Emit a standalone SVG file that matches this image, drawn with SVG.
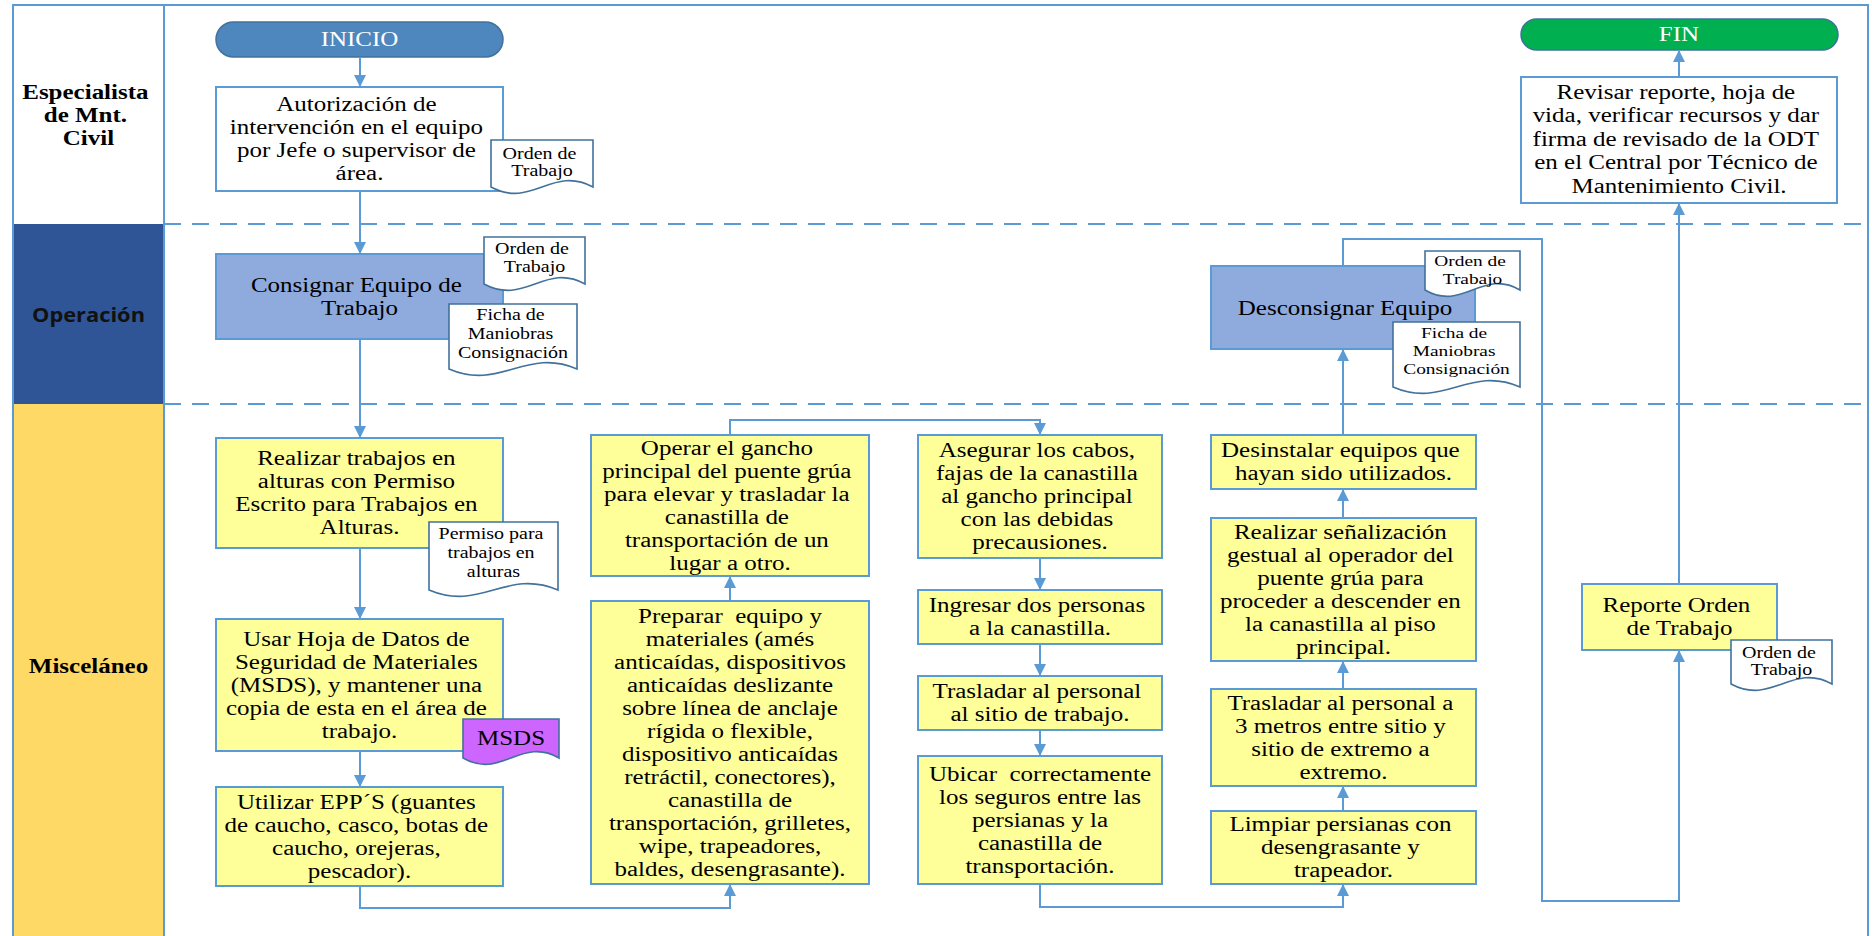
<svg xmlns="http://www.w3.org/2000/svg" width="1872" height="936" viewBox="0 0 1872 936">
  <style>
    .t { font-family: "Liberation Serif", "Times New Roman", serif; font-size: 20px; fill: #000; text-anchor: middle; }
    .tb { font-family: "Liberation Serif", "Times New Roman", serif; font-size: 20px; font-weight: bold; fill: #000; text-anchor: middle; }
    .ts { font-family: "Open Sans", "Liberation Sans", sans-serif; font-size: 19px; font-weight: bold; fill: #111; text-anchor: middle; }
    .td { font-family: "Liberation Serif", "Times New Roman", serif; font-size: 16px; fill: #000; text-anchor: middle; }
    .tw { font-family: "Liberation Serif", "Times New Roman", serif; font-size: 20px; fill: #fff; text-anchor: middle; }
    .box { fill: #ffffff; stroke: #5b9bd5; stroke-width: 2; }
    .yel { fill: #ffff99; stroke: #5b9bd5; stroke-width: 2; }
    .op { fill: #8faadc; stroke: #5b9bd5; stroke-width: 2; }
    .doc { fill: #ffffff; stroke: #41719c; stroke-width: 1.6; }
    .msds { fill: #cc66ff; stroke: #41719c; stroke-width: 1.6; }
    .lane-line { fill: none; stroke: #5b9bd5; stroke-width: 2; }
    .dash { stroke: #5b9bd5; stroke-width: 2; stroke-dasharray: 17 11; }
    .con { fill: none; stroke: #5b9bd5; stroke-width: 2; marker-end: url(#arr); }
    .conn { fill: none; stroke: #5b9bd5; stroke-width: 2; }
  </style>
  <defs>
    <marker id="arr" markerUnits="userSpaceOnUse" markerWidth="13" markerHeight="13" refX="12" refY="6.5" orient="auto">
      <path d="M0,0.5 L12,6.5 L0,12.5 z" fill="#5b9bd5"/>
    </marker>
  </defs>

  <rect width="1872" height="936" fill="#ffffff"/>

  <!-- swimlanes -->
  <g id="lanes">
    <rect x="13" y="6" width="151" height="218" fill="#ffffff"/>
    <rect x="13" y="224" width="151" height="180" fill="#2f5597"/>
    <rect x="13" y="404" width="151" height="540" fill="#ffd966"/>
    <rect x="13" y="5" width="1855" height="940" class="lane-line"/>
    <line x1="164" y1="5" x2="164" y2="936" class="lane-line"/>
    <line x1="164" y1="224" x2="1868" y2="224" class="dash"/>
    <line x1="164" y1="404" x2="1868" y2="404" class="dash"/>
    <text class="tb" transform="translate(88.5 0) scale(1.25 1)">
      <tspan x="0" y="99">Especialista</tspan>
      <tspan x="0" y="122">de Mnt.</tspan>
      <tspan x="0" y="145">Civil</tspan>
    </text>
    <text class="ts" transform="translate(88.5 0) scale(1.15 1)"><tspan x="0" y="322">Operación</tspan></text>
    <text class="tb" transform="translate(88.5 0) scale(1.25 1)"><tspan x="0" y="673">Misceláneo</tspan></text>
  </g>

  <!-- start / end -->
  <g id="inicio">
    <rect x="216" y="22" width="287" height="35" rx="17.5" fill="#4d87be" stroke="#41719c" stroke-width="1.5"/>
    <text class="tw" transform="translate(359.5 0) scale(1.25 1)"><tspan x="0" y="46">INICIO</tspan></text>
  </g>
  <g id="fin">
    <rect x="1521" y="19" width="317" height="31" rx="15.5" fill="#00b050" stroke="#41719c" stroke-width="1.5"/>
    <text class="tw" transform="translate(1679 0) scale(1.25 1)"><tspan x="0" y="41">FIN</tspan></text>
  </g>

  <!-- Especialista de Mnt. Civil -->
  <g id="autorizacion">
    <rect x="216" y="87" width="287" height="104" class="box"/>
    <text class="t" transform="translate(359.5 0) scale(1.25 1)">
      <tspan x="0" y="111">Autorización de</tspan>
      <tspan x="0" y="134">intervención en el equipo</tspan>
      <tspan x="0" y="157">por Jefe o supervisor de</tspan>
      <tspan x="0" y="180">área.</tspan>
    </text>
  </g>
  <g id="doc-orden-1">
    <path d="M491,140 H593 V187 C552,165 532,209 491,187 Z" class="doc"/>
    <text class="td" transform="translate(542 0) scale(1.25 1)">
      <tspan x="0" y="159">Orden de</tspan>
      <tspan x="0" y="176">Trabajo</tspan>
    </text>
  </g>
  <g id="revisar">
    <rect x="1521" y="77" width="316" height="126" class="box"/>
    <text class="t" transform="translate(1679 0) scale(1.25 1)">
      <tspan x="0" y="99">Revisar reporte, hoja de</tspan>
      <tspan x="0" y="122.5">vida, verificar recursos y dar</tspan>
      <tspan x="0" y="146">firma de revisado de la ODT</tspan>
      <tspan x="0" y="169.5">en el Central por Técnico de</tspan>
      <tspan x="0" y="193">Mantenimiento Civil.</tspan>
    </text>
  </g>

  <!-- Operación -->
  <g id="consignar">
    <rect x="216" y="254" width="287" height="85" class="op"/>
    <text class="t" transform="translate(359.5 0) scale(1.25 1)">
      <tspan x="0" y="292">Consignar Equipo de</tspan>
      <tspan x="0" y="315">Trabajo</tspan>
    </text>
  </g>
  <g id="doc-orden-2">
    <path d="M484,237 H585 V284 C545,262 525,306 484,284 Z" class="doc"/>
    <text class="td" transform="translate(534.5 0) scale(1.25 1)">
      <tspan x="0" y="254">Orden de</tspan>
      <tspan x="0" y="272">Trabajo</tspan>
    </text>
  </g>
  <g id="doc-ficha-1">
    <path d="M449,304 H577 V369 C526,347 500,391 449,369 Z" class="doc"/>
    <text class="td" transform="translate(513 0) scale(1.25 1)">
      <tspan x="0" y="320">Ficha de</tspan>
      <tspan x="0" y="339">Maniobras</tspan>
      <tspan x="0" y="358">Consignación</tspan>
    </text>
  </g>
  <g id="desconsignar">
    <rect x="1211" y="266" width="264" height="83" class="op"/>
    <text class="t" transform="translate(1345 0) scale(1.25 1)"><tspan x="0" y="315">Desconsignar Equipo</tspan></text>
  </g>
  <g id="doc-orden-3">
    <path d="M1425,251 H1520 V290 C1482,268 1463,312 1425,290 Z" class="doc"/>
    <text class="td" style="font-size:15.5px" transform="translate(1472.5 0) scale(1.25 1)">
      <tspan x="0" y="266">Orden de</tspan>
      <tspan x="0" y="284">Trabajo</tspan>
    </text>
  </g>
  <g id="doc-ficha-2">
    <path d="M1393,322 H1520 V387 C1469,365 1444,409 1393,387 Z" class="doc"/>
    <text class="td" style="font-size:15.5px" transform="translate(1456.5 0) scale(1.25 1)">
      <tspan x="0" y="338">Ficha de</tspan>
      <tspan x="0" y="356">Maniobras</tspan>
      <tspan x="0" y="374">Consignación</tspan>
    </text>
  </g>

  <!-- Misceláneo: left column -->
  <g id="realizar-alturas">
    <rect x="216" y="438" width="287" height="110" class="yel"/>
    <text class="t" transform="translate(359.5 0) scale(1.25 1)">
      <tspan x="0" y="465">Realizar trabajos en</tspan>
      <tspan x="0" y="488">alturas con Permiso</tspan>
      <tspan x="0" y="511">Escrito para Trabajos en</tspan>
      <tspan x="0" y="534">Alturas.</tspan>
    </text>
  </g>
  <g id="doc-permiso">
    <path d="M429,522 H558 V590 C506,568 481,612 429,590 Z" class="doc"/>
    <text class="td" transform="translate(493.5 0) scale(1.25 1)">
      <tspan x="0" y="539">Permiso para</tspan>
      <tspan x="0" y="558">trabajos en</tspan>
      <tspan x="0" y="577">alturas</tspan>
    </text>
  </g>
  <g id="usar-msds">
    <rect x="216" y="619" width="287" height="132" class="yel"/>
    <text class="t" transform="translate(359.5 0) scale(1.25 1)">
      <tspan x="0" y="646">Usar Hoja de Datos de</tspan>
      <tspan x="0" y="669">Seguridad de Materiales</tspan>
      <tspan x="0" y="692">(MSDS), y mantener una</tspan>
      <tspan x="0" y="715">copia de esta en el área de</tspan>
      <tspan x="0" y="738">trabajo.</tspan>
    </text>
  </g>
  <g id="doc-msds">
    <path d="M463,719 H559 V758 C521,736 501,780 463,758 Z" class="msds"/>
    <text class="t" transform="translate(511 0) scale(1.25 1)"><tspan x="0" y="745">MSDS</tspan></text>
  </g>
  <g id="utilizar-epp">
    <rect x="216" y="787" width="287" height="99" class="yel"/>
    <text class="t" transform="translate(359.5 0) scale(1.25 1)">
      <tspan x="0" y="809">Utilizar EPP´S (guantes</tspan>
      <tspan x="0" y="832">de caucho, casco, botas de</tspan>
      <tspan x="0" y="855">caucho, orejeras,</tspan>
      <tspan x="0" y="878">pescador).</tspan>
    </text>
  </g>

  <!-- Misceláneo: second column -->
  <g id="operar-gancho">
    <rect x="591" y="435" width="278" height="141" class="yel"/>
    <text class="t" transform="translate(730 0) scale(1.25 1)">
      <tspan x="0" y="455">Operar el gancho</tspan>
      <tspan x="0" y="478">principal del puente grúa</tspan>
      <tspan x="0" y="501">para elevar y trasladar la</tspan>
      <tspan x="0" y="524">canastilla de</tspan>
      <tspan x="0" y="547">transportación de un</tspan>
      <tspan x="0" y="570">lugar a otro.</tspan>
    </text>
  </g>
  <g id="preparar-equipo">
    <rect x="591" y="601" width="278" height="283" class="yel"/>
    <text class="t" xml:space="preserve" transform="translate(730 0) scale(1.25 1)"><tspan x="0" y="623">Preparar  equipo y</tspan><tspan x="0" y="646">materiales (amés</tspan><tspan x="0" y="669">anticaídas, dispositivos</tspan><tspan x="0" y="692">anticaídas deslizante</tspan><tspan x="0" y="715">sobre línea de anclaje</tspan><tspan x="0" y="738">rígida o flexible,</tspan><tspan x="0" y="761">dispositivo anticaídas</tspan><tspan x="0" y="784">retráctil, conectores),</tspan><tspan x="0" y="807">canastilla de</tspan><tspan x="0" y="830">transportación, grilletes,</tspan><tspan x="0" y="853">wipe, trapeadores,</tspan><tspan x="0" y="876">baldes, desengrasante).</tspan></text>
  </g>

  <!-- Misceláneo: third column -->
  <g id="asegurar-cabos">
    <rect x="918" y="435" width="244" height="123" class="yel"/>
    <text class="t" transform="translate(1040 0) scale(1.25 1)">
      <tspan x="0" y="457.5">Asegurar los cabos,</tspan>
      <tspan x="0" y="480.5">fajas de la canastilla</tspan>
      <tspan x="0" y="503.5">al gancho principal</tspan>
      <tspan x="0" y="526.5">con las debidas</tspan>
      <tspan x="0" y="549.5">precausiones.</tspan>
    </text>
  </g>
  <g id="ingresar-personas">
    <rect x="918" y="590" width="244" height="54" class="yel"/>
    <text class="t" transform="translate(1040 0) scale(1.25 1)">
      <tspan x="0" y="612.5">Ingresar dos personas</tspan>
      <tspan x="0" y="635.5">a la canastilla.</tspan>
    </text>
  </g>
  <g id="trasladar-sitio">
    <rect x="918" y="676" width="244" height="54" class="yel"/>
    <text class="t" transform="translate(1040 0) scale(1.25 1)">
      <tspan x="0" y="698.5">Trasladar al personal</tspan>
      <tspan x="0" y="721.5">al sitio de trabajo.</tspan>
    </text>
  </g>
  <g id="ubicar-seguros">
    <rect x="918" y="756" width="244" height="128" class="yel"/>
    <text class="t" xml:space="preserve" transform="translate(1040 0) scale(1.25 1)"><tspan x="0" y="781">Ubicar  correctamente</tspan><tspan x="0" y="804">los seguros entre las</tspan><tspan x="0" y="827">persianas y la</tspan><tspan x="0" y="850">canastilla de</tspan><tspan x="0" y="873">transportación.</tspan></text>
  </g>

  <!-- Misceláneo: fourth column -->
  <g id="desinstalar">
    <rect x="1211" y="435" width="265" height="54" class="yel"/>
    <text class="t" transform="translate(1343.5 0) scale(1.25 1)">
      <tspan x="0" y="457.5">Desinstalar equipos que</tspan>
      <tspan x="0" y="480.5">hayan sido utilizados.</tspan>
    </text>
  </g>
  <g id="senalizacion">
    <rect x="1211" y="518" width="265" height="143" class="yel"/>
    <text class="t" transform="translate(1343.5 0) scale(1.25 1)">
      <tspan x="0" y="539">Realizar señalización</tspan>
      <tspan x="0" y="562">gestual al operador del</tspan>
      <tspan x="0" y="585">puente grúa para</tspan>
      <tspan x="0" y="608">proceder a descender en</tspan>
      <tspan x="0" y="631">la canastilla al piso</tspan>
      <tspan x="0" y="654">principal.</tspan>
    </text>
  </g>
  <g id="trasladar-extremo">
    <rect x="1211" y="689" width="265" height="97" class="yel"/>
    <text class="t" transform="translate(1343.5 0) scale(1.25 1)">
      <tspan x="0" y="710">Trasladar al personal a</tspan>
      <tspan x="0" y="733">3 metros entre sitio y</tspan>
      <tspan x="0" y="756">sitio de extremo a</tspan>
      <tspan x="0" y="779">extremo.</tspan>
    </text>
  </g>
  <g id="limpiar-persianas">
    <rect x="1211" y="811" width="265" height="73" class="yel"/>
    <text class="t" transform="translate(1343.5 0) scale(1.25 1)">
      <tspan x="0" y="831.5">Limpiar persianas con</tspan>
      <tspan x="0" y="854.5">desengrasante y</tspan>
      <tspan x="0" y="877.5">trapeador.</tspan>
    </text>
  </g>

  <!-- Misceláneo: report -->
  <g id="reporte">
    <rect x="1582" y="584" width="195" height="66" class="yel"/>
    <text class="t" transform="translate(1679.5 0) scale(1.25 1)">
      <tspan x="0" y="612.5">Reporte Orden</tspan>
      <tspan x="0" y="635.5">de Trabajo</tspan>
    </text>
  </g>
  <g id="doc-orden-4">
    <path d="M1731,640 H1832 V684 C1792,662 1772,706 1731,684 Z" class="doc"/>
    <text class="td" transform="translate(1781.5 0) scale(1.25 1)">
      <tspan x="0" y="658">Orden de</tspan>
      <tspan x="0" y="675">Trabajo</tspan>
    </text>
  </g>

  <!-- connectors -->
  <g id="connectors">
    <path d="M360,57 V87" class="con"/>
    <path d="M360,191 V254" class="con"/>
    <path d="M360,339 V438" class="con"/>
    <path d="M360,548 V619" class="con"/>
    <path d="M360,751 V787" class="con"/>
    <path d="M360,886 V908 H730 V884" class="con"/>
    <path d="M730,601 V576" class="con"/>
    <path d="M730,435 V420 H1040 V435" class="con"/>
    <path d="M1040,558 V590" class="con"/>
    <path d="M1040,644 V676" class="con"/>
    <path d="M1040,730 V756" class="con"/>
    <path d="M1040,884 V907 H1343 V884" class="con"/>
    <path d="M1343,811 V786" class="con"/>
    <path d="M1343,689 V661" class="con"/>
    <path d="M1343,518 V489" class="con"/>
    <path d="M1343,435 V349" class="con"/>
    <path d="M1343,266 V239 H1542 V901 H1679 V650" class="con"/>
    <path d="M1679,584 V203" class="con"/>
    <path d="M1679,77 V50" class="con"/>
  </g>
</svg>
